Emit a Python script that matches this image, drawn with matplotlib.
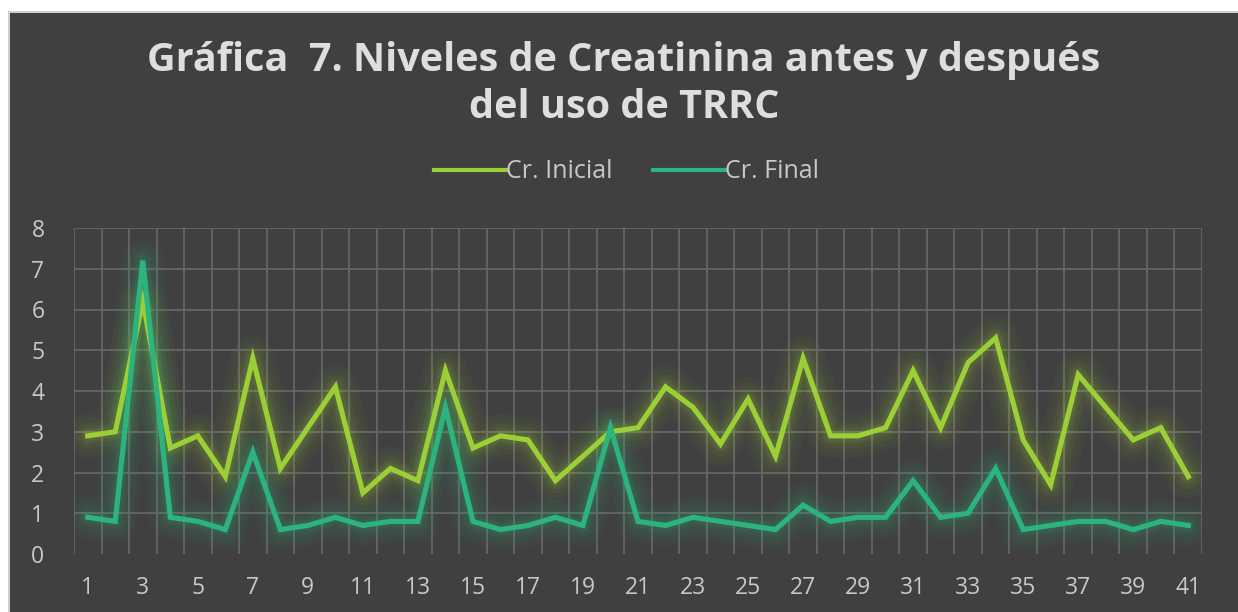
import numpy as np
import matplotlib
matplotlib.use("Agg")
import matplotlib.pyplot as plt
from matplotlib.patches import Rectangle
from matplotlib.lines import Line2D

BG = "#404040"; GRID = "#686868"; TXT = "#c8c8c8"; TITLE = "#dedede"
INI = "#9ccf37"; FIN = "#2db47e"

pacientes = list(range(1, 42))
cr_inicial = [2.9, 3.0, 6.2, 2.6, 2.9, 1.9, 4.8, 2.1, 3.1, 4.1,
              1.5, 2.1, 1.8, 4.5, 2.6, 2.9, 2.8, 1.8, 2.4, 3.0,
              3.1, 4.1, 3.6, 2.7, 3.8, 2.4, 4.8, 2.9, 2.9, 3.1,
              4.5, 3.1, 4.7, 5.3, 2.8, 1.7, 4.4, 3.6, 2.8, 3.1, 1.9]
cr_final = [0.9, 0.8, 7.2, 0.9, 0.8, 0.6, 2.5, 0.6, 0.7, 0.9,
            0.7, 0.8, 0.8, 3.6, 0.8, 0.6, 0.7, 0.9, 0.7, 3.1,
            0.8, 0.7, 0.9, 0.8, 0.7, 0.6, 1.2, 0.8, 0.9, 0.9,
            1.8, 0.9, 1.0, 2.1, 0.6, 0.7, 0.8, 0.8, 0.6, 0.8, 0.7]
series = [("Cr. Inicial", cr_inicial, INI), ("Cr. Final", cr_final, FIN)]

plt.rcParams["font.family"] = ["Open Sans", "DejaVu Sans"]

fig = plt.figure(figsize=(12.38, 6.12), dpi=100, facecolor="white")
# dark chart panel with a thin light frame on top/left
for r in [Rectangle((8 / 1238, 0), 1, 1 - 11 / 612, facecolor="#cfcfcf"),
          Rectangle((10 / 1238, 0), 1, 1 - 13 / 612, facecolor=BG)]:
    r.set_transform(fig.transFigure); r.set_edgecolor("none"); r.set_zorder(-5)
    fig.patches.append(r)

ax = fig.add_axes([74 / 1238, 1 - 554 / 612, 1128 / 1238, 326 / 612])
ax.patch.set_alpha(0)
ax.set_xlim(0.5, 41.5); ax.set_ylim(0, 8)
for s in ax.spines.values():
    s.set_visible(False)

# grid: horizontal at each unit, vertical at category boundaries
for y in range(1, 9):
    ax.axhline(y, color=GRID, lw=1.2, zorder=1)
for x in np.arange(0.5, 42, 1):
    ax.plot([x, x], [0, 8], color=GRID, lw=1.2, zorder=1)

# soft glow beneath each line
for name, vals, col in series:
    for lw, a in [(32, 0.035), (25, 0.045), (18, 0.06), (12, 0.08), (8, 0.1)]:
        ax.plot(pacientes, vals, color=col, lw=lw, alpha=a, solid_joinstyle="round",
                solid_capstyle="round", zorder=2)
for name, vals, col in series:
    ax.plot(pacientes, vals, color=col, lw=3.7, solid_joinstyle="miter", zorder=3)

ax.set_xticks(pacientes[::2])
ax.set_yticks(range(0, 9))
ax.tick_params(length=0, colors=TXT, labelsize=16.5)
ax.tick_params(axis="x", pad=16)
ax.tick_params(axis="y", pad=26)
for lab in ax.get_yticklabels():
    lab.set_horizontalalignment("center")

fig.text(0.504, 1 - 84 / 612, "Gráfica  7. Niveles de Creatinina antes y después\ndel uso de TRRC",
         ha="center", va="center", fontsize=28.5, fontweight="bold", color=TITLE, linespacing=1.25)

handles = [Line2D([0], [0], color=c, lw=3) for _, _, c in series]
fig.legend(handles, [n for n, _, _ in series], loc="center", bbox_to_anchor=(0.506, 1 - 172 / 612),
           ncol=2, frameon=False, fontsize=18, labelcolor=TXT, handlelength=2.9,
           handletextpad=0.0, columnspacing=1.6)

fig.savefig("out.png", dpi=100, facecolor="white")
